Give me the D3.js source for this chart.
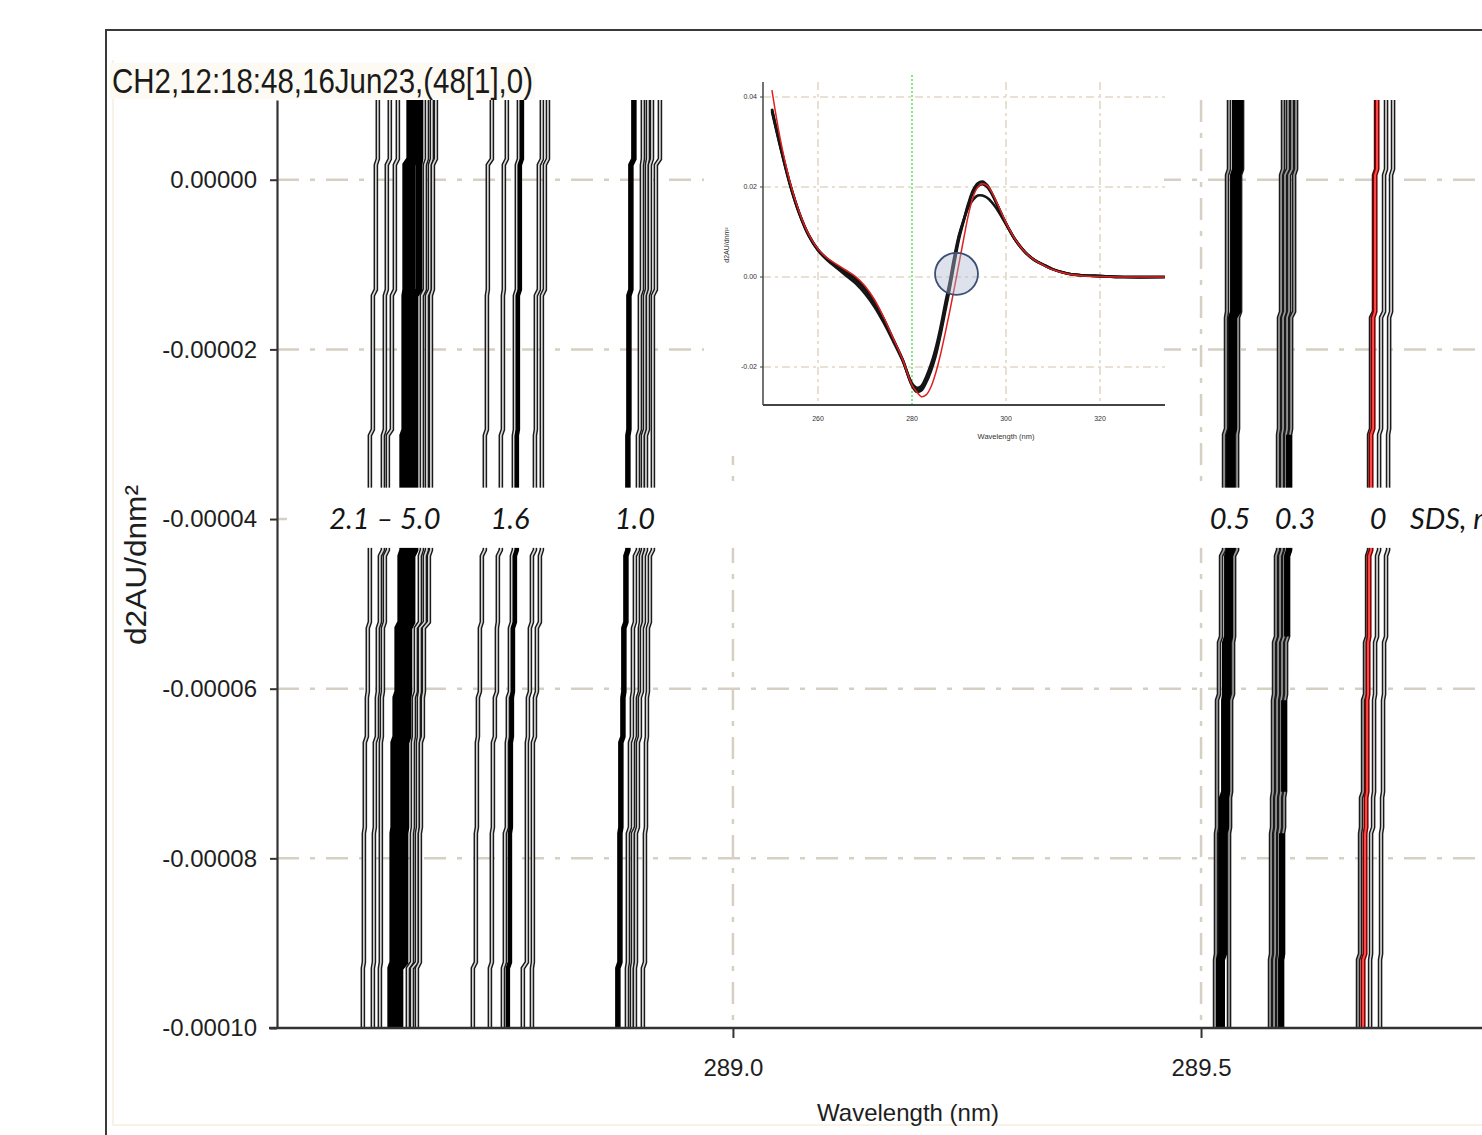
<!DOCTYPE html>
<html><head><meta charset="utf-8">
<script src="https://cdn.jsdelivr.net/npm/d3@7"></script>
<style>html,body{margin:0;padding:0;background:#fff;overflow:hidden}svg{display:block}</style>
</head><body><svg id="chart" width="1482" height="1135"></svg>
<script>
// ---------------- DATA ----------------
const titleText = "CH2,12:18:48,16Jun23,(48[1],0)";
const yTicks = [0, -0.00002, -0.00004, -0.00006, -0.00008, -0.0001];
const yTickLabels = ["0.00000", "-0.00002", "-0.00004", "-0.00006", "-0.00008", "-0.00010"];
const yGrid = [0, -0.00002, -0.00004, -0.00006, -0.00008];
const xTicks = [289.0, 289.5];
const xTickLabels = ["289.0", "289.5"];
const xTitle = "Wavelength (nm)";
const yTitle = "d2AU/dnm²";

// step levels (d2A values) where traces jog
const levelsLeft  = [0.0000094, 0.0000021, -0.0000133, -0.0000298, -0.0000440, -0.0000525, -0.0000607, -0.0000660, -0.0000767, -0.0000926, -0.0001];
const levelsRight = [0.0000094, 0.0000009, -0.0000159, -0.0000297, -0.0000440, -0.0000542, -0.0000610, -0.0000725, -0.0000767, -0.0000916, -0.0001];

// wavelength (nm) of each trace in each step segment
// SDS 2.1 - 5.0 mM
const trA1 = [288.6207, 288.6186, 288.6154, 288.6122, 288.6122, 288.6100, 288.6090, 288.6068, 288.6058, 288.6047];
const trA2 = [288.6335, 288.6303, 288.6282, 288.6261, 288.6229, 288.6207, 288.6197, 288.6175, 288.6165, 288.6154];
const trA3 = [288.6421, 288.6389, 288.6357, 288.6314, 288.6282, 288.6261, 288.6250, 288.6239, 288.6239, 288.6229];
const trA4 = [288.6549, 288.6506, 288.6496, 288.6474, 288.6453, 288.6421, 288.6400, 288.6378, 288.6368, 288.6346];
const trA5 = [288.6603, 288.6571, 288.6549, 288.6538, 288.6506, 288.6474, 288.6464, 288.6442, 288.6432, 288.6400];
const trA6 = [288.6656, 288.6645, 288.6603, 288.6603, 288.6571, 288.6538, 288.6528, 288.6506, 288.6496, 288.6442];
const trA7 = [288.6731, 288.6709, 288.6677, 288.6677, 288.6656, 288.6613, 288.6592, 288.6581, 288.6571, 288.6528];
const trA8 = [288.6784, 288.6763, 288.6731, 288.6731, 288.6709, 288.6656, 288.6645, 288.6635, 288.6624, 288.6571];
const trA9 = [288.6827, 288.6795, 288.6774, 288.6774, 288.6752, 288.6699, 288.6688, 288.6667, 288.6656, 288.6624];
// SDS 1.6 mM
const trB1 = [288.7425, 288.7382, 288.7372, 288.7350, 288.7318, 288.7297, 288.7276, 288.7265, 288.7254, 288.7222];
const trB2 = [288.7585, 288.7553, 288.7543, 288.7521, 288.7489, 288.7479, 288.7457, 288.7436, 288.7425, 288.7404];
const trB3 = [288.7714, 288.7692, 288.7671, 288.7660, 288.7639, 288.7618, 288.7596, 288.7585, 288.7564, 288.7543];
const trB4 = [288.7746, 288.7724, 288.7703, 288.7692, 288.7671, 288.7650, 288.7639, 288.7628, 288.7618, 288.7596];
const trB5 = [288.7959, 288.7927, 288.7895, 288.7885, 288.7853, 288.7831, 288.7810, 288.7799, 288.7799, 288.7756];
const trB6 = [288.8024, 288.7991, 288.7959, 288.7959, 288.7938, 288.7906, 288.7885, 288.7863, 288.7863, 288.7853];
// SDS 1.0 mM
const trC1 = [288.8942, 288.8910, 288.8889, 288.8878, 288.8857, 288.8835, 288.8825, 288.8803, 288.8793, 288.8771];
const trC2 = [288.9038, 288.9028, 288.9006, 288.8985, 288.8953, 288.8932, 288.8921, 288.8900, 288.8878, 288.8868];
const trC3 = [288.9092, 288.9081, 288.9060, 288.9038, 288.9017, 288.9006, 288.8985, 288.8964, 288.8932, 288.8921];
const trC4 = [288.9135, 288.9113, 288.9092, 288.9071, 288.9049, 288.9028, 288.9006, 288.8985, 288.8964, 288.8953];
const trC5 = [288.9220, 288.9177, 288.9145, 288.9145, 288.9113, 288.9092, 288.9081, 288.9071, 288.9060, 288.9038];
// SDS 0.5 mM
const trD1 = [289.5299, 289.5278, 289.5267, 289.5246, 289.5214, 289.5192, 289.5171, 289.5171, 289.5160, 289.5150];
const trD2 = [289.5363, 289.5342, 289.5321, 289.5299, 289.5278, 289.5256, 289.5246, 289.5224, 289.5214, 289.5192];
const trD3 = [289.5417, 289.5395, 289.5353, 289.5331, 289.5310, 289.5288, 289.5278, 289.5267, 289.5246, 289.5224];
const trD4 = [289.5438, 289.5417, 289.5395, 289.5385, 289.5353, 289.5342, 289.5321, 289.5310, 289.5299, 289.5299];
// SDS 0.3 mM
const trE1 = [289.5876, 289.5855, 289.5833, 289.5823, 289.5801, 289.5780, 289.5769, 289.5759, 289.5748, 289.5737];
const trE2 = [289.5929, 289.5897, 289.5876, 289.5865, 289.5844, 289.5823, 289.5812, 289.5801, 289.5791, 289.5780];
const trE3 = [289.5972, 289.5940, 289.5919, 289.5908, 289.5887, 289.5865, 289.5855, 289.5844, 289.5833, 289.5823];
const trE4 = [289.6015, 289.5994, 289.5962, 289.5951, 289.5929, 289.5908, 289.5897, 289.5887, 289.5876, 289.5865];
const trE5 = [null, null, null, 289.5940, 289.5919, null, 289.5887, null, 289.5865, 289.5855];
// SDS 0 mM
const trF1 = [289.6870, 289.6848, 289.6816, 289.6795, 289.6774, 289.6752, 289.6731, 289.6709, 289.6699, 289.6677];
const trF2 = [289.6976, 289.6955, 289.6923, 289.6902, 289.6880, 289.6859, 289.6848, 289.6838, 289.6816, 289.6806];
const trF3 = [289.7051, 289.7030, 289.7009, 289.6998, 289.6976, 289.6955, 289.6944, 289.6934, 289.6923, 289.6912];
const trFred = [289.6880, 289.6859, 289.6838, 289.6816, 289.6795, 289.6784, 289.6774, 289.6763, 289.6752, 289.6731];

// concentration labels (SDS, mM)
const concLabels = ["2.1 – 5.0", "1.6", "1.0", "0.5", "0.3", "0"];
const concLabelPos = [288.6282, 288.7618, 288.8953, 289.5310, 289.6004, 289.6891];
const unitLabel = "SDS, mM";
const unitLabelPos = 289.7233;
const labelValue = -0.00004;
const labelBand = [-0.0000363, -0.0000434];

// inset: full second-derivative spectra
const insetLam = [250.2, 252, 254, 256, 258, 260, 262, 264, 266, 268, 270, 272, 274, 276, 278, 280, 281, 282, 283, 284, 285, 286, 287, 288, 289, 290, 291, 292, 293, 294, 295, 296, 297, 298, 300, 302, 304, 306, 308, 310, 313, 316, 320, 325, 333.8];
const insetBlackA = [0.0371, 0.0290, 0.0208, 0.0142, 0.0093, 0.0060, 0.0039, 0.0023, 0.0008, -0.0007, -0.0029, -0.0058, -0.0096, -0.0140, -0.0184, -0.0240, -0.0251, -0.0247, -0.0229, -0.0203, -0.0170, -0.0125, -0.0073, -0.0022, 0.0038, 0.0090, 0.0127, 0.0164, 0.0193, 0.0208, 0.0212, 0.0204, 0.0186, 0.0164, 0.0119, 0.0082, 0.0056, 0.0038, 0.0027, 0.0017, 0.0008, 0.0004, 0.0002, 0.0000, 0.0000];
const insetBlackB = [0.0368, 0.0288, 0.0206, 0.0141, 0.0092, 0.0059, 0.0037, 0.0020, 0.0003, -0.0014, -0.0037, -0.0066, -0.0102, -0.0143, -0.0186, -0.0236, -0.0246, -0.0242, -0.0222, -0.0195, -0.0160, -0.0115, -0.0062, -0.0012, 0.0045, 0.0093, 0.0127, 0.0155, 0.0172, 0.0181, 0.0181, 0.0176, 0.0166, 0.0152, 0.0117, 0.0082, 0.0056, 0.0038, 0.0027, 0.0017, 0.0008, 0.0004, 0.0002, 0.0000, 0.0000];
const insetBlackC = [0.0374, 0.0292, 0.0209, 0.0143, 0.0094, 0.0061, 0.0040, 0.0025, 0.0011, -0.0003, -0.0024, -0.0054, -0.0093, -0.0138, -0.0183, -0.0241, -0.0255, -0.0252, -0.0235, -0.0210, -0.0177, -0.0132, -0.0080, -0.0028, 0.0030, 0.0084, 0.0124, 0.0160, 0.0188, 0.0202, 0.0206, 0.0200, 0.0184, 0.0163, 0.0119, 0.0082, 0.0056, 0.0038, 0.0027, 0.0017, 0.0008, 0.0004, 0.0002, 0.0000, 0.0000];
const insetRed = [0.0415, 0.0305, 0.0213, 0.0145, 0.0095, 0.0062, 0.0042, 0.0028, 0.0015, 0.0001, -0.0020, -0.0050, -0.0090, -0.0136, -0.0183, -0.0240, -0.0255, -0.0266, -0.0262, -0.0245, -0.0215, -0.0175, -0.0128, -0.0078, -0.0025, 0.0030, 0.0085, 0.0138, 0.0178, 0.0200, 0.0207, 0.0203, 0.0188, 0.0167, 0.0121, 0.0083, 0.0056, 0.0038, 0.0026, 0.0016, 0.0007, 0.0003, 0.0001, 0.0000, 0.0000];
const insetXTicks = [260, 280, 300, 320];
const insetYTicks = [0.04, 0.02, 0.00, -0.02];
const insetYTickLabels = ["0.04", "0.02", "0.00", "-0.02"];
const insetMarker = 280;
const insetEllipse = {cx: 289.47, cy: 0.0007, rx: 4.57, ry: 0.00467};

// ---------------- DRAW ----------------
const svg = d3.select("#chart");
svg.append("rect").attr("width", 1482).attr("height", 1135).attr("fill", "#fff");

const x = d3.scaleLinear().domain([288.513, 289.861]).range([277, 1539]);
const y = d3.scaleLinear().domain([-0.0001, 0.0000094]).range([1028, 100]);

// outer frame
svg.append("rect").attr("x", 106).attr("y", 30).attr("width", 1500).attr("height", 1200)
  .attr("fill", "none").attr("stroke", "#3a3a3a").attr("stroke-width", 2);
svg.append("path").attr("d", "M113,60 V1125 H1482")
  .attr("fill", "none").attr("stroke", "#f6efe0").attr("stroke-width", 1.5);

// title
svg.append("rect").attr("x", 110).attr("y", 63).attr("width", 425).attr("height", 36).attr("fill", "#fdfaf3");
svg.append("text").attr("x", 112).attr("y", 93).text(titleText)
  .attr("font-family", "'Liberation Sans Narrow','Liberation Sans',Arial,sans-serif")
  .attr("font-size", 35).attr("fill", "#1a1a1a")
  .attr("textLength", 421).attr("lengthAdjust", "spacingAndGlyphs");

// grid
const gridColor = "#d6d0c4";
const gridDash = "22,11,5,11";
const gGrid = svg.append("g");
gGrid.selectAll("line.h").data(yGrid).enter().append("line")
  .attr("x1", x.range()[0]).attr("x2", 1482)
  .attr("y1", d => y(d)).attr("y2", d => y(d))
  .attr("stroke", gridColor).attr("stroke-width", 2.5).attr("stroke-dasharray", gridDash);
gGrid.selectAll("line.v").data(xTicks).enter().append("line")
  .attr("x1", d => x(d)).attr("x2", d => x(d))
  .attr("y1", y.range()[1]).attr("y2", y.range()[0])
  .attr("stroke", gridColor).attr("stroke-width", 2.5).attr("stroke-dasharray", gridDash);

// traces
const jog = 0.00000035;
function tracePoints(lam, lv) {
  const n = lam.length, pts = [];
  for (let i = 0; i < n; i++) {
    if (lam[i] == null) { pts.push(null); continue; }
    const top = i === 0 ? lv[0] : lv[i] - jog;
    const bot = i === n - 1 ? lv[n] : lv[i + 1] + jog;
    pts.push([lam[i], top]);
    pts.push([lam[i], bot]);
  }
  return pts;
}
const line = d3.line().defined(d => d != null).x(d => x(d[0])).y(d => y(d[1]));

const LIGHT = "#d6d6d6", GREY = "#9a9a9a";
const traceTable = [
  {lam: trA1, lv: levelsLeft, kind: "hollow", inner: LIGHT},
  {lam: trA2, lv: levelsLeft, kind: "hollow", inner: LIGHT},
  {lam: trA3, lv: levelsLeft, kind: "hollow", inner: LIGHT},
  {lam: trA7, lv: levelsLeft, kind: "hollow", inner: LIGHT},
  {lam: trA8, lv: levelsLeft, kind: "hollow", inner: LIGHT},
  {lam: trA9, lv: levelsLeft, kind: "hollow", inner: LIGHT},
  {lam: trA4, lv: levelsLeft, kind: "solid", w: 7},
  {lam: trA5, lv: levelsLeft, kind: "solid", w: 7},
  {lam: trA6, lv: levelsLeft, kind: "solid", w: 7},
  {lam: trB1, lv: levelsLeft, kind: "hollow", inner: LIGHT},
  {lam: trB2, lv: levelsLeft, kind: "hollow", inner: LIGHT},
  {lam: trB3, lv: levelsLeft, kind: "hollow", inner: LIGHT},
  {lam: trB5, lv: levelsLeft, kind: "hollow", inner: LIGHT},
  {lam: trB6, lv: levelsLeft, kind: "hollow", inner: LIGHT},
  {lam: trB4, lv: levelsLeft, kind: "solid", w: 4.5},
  {lam: trC2, lv: levelsLeft, kind: "hollow", inner: LIGHT},
  {lam: trC3, lv: levelsLeft, kind: "hollow", inner: LIGHT},
  {lam: trC4, lv: levelsLeft, kind: "hollow", inner: LIGHT},
  {lam: trC5, lv: levelsLeft, kind: "hollow", inner: LIGHT},
  {lam: trC1, lv: levelsLeft, kind: "solid", w: 5.5},
  {lam: trD1, lv: levelsRight, kind: "hollow", inner: GREY},
  {lam: trD4, lv: levelsRight, kind: "hollow", inner: GREY},
  {lam: trD2, lv: levelsRight, kind: "solid", w: 6},
  {lam: trD3, lv: levelsRight, kind: "solid", w: 6},
  {lam: trE1, lv: levelsRight, kind: "hollow", inner: GREY},
  {lam: trE2, lv: levelsRight, kind: "hollow", inner: GREY},
  {lam: trE3, lv: levelsRight, kind: "hollow", inner: GREY},
  {lam: trE4, lv: levelsRight, kind: "hollow", inner: GREY},
  {lam: trE5, lv: levelsRight, kind: "solid", w: 6},
  {lam: trF1, lv: levelsRight, kind: "hollow", inner: GREY},
  {lam: trF2, lv: levelsRight, kind: "hollow", inner: LIGHT},
  {lam: trF3, lv: levelsRight, kind: "hollow", inner: LIGHT},
  {lam: trFred, lv: levelsRight, kind: "red"}
];
const gTr = svg.append("g").attr("fill", "none").attr("stroke-linejoin", "miter");
traceTable.forEach(t => {
  const d = line(tracePoints(t.lam, t.lv));
  if (t.kind === "solid") {
    gTr.append("path").attr("d", d).attr("stroke", "#000").attr("stroke-width", t.w);
  } else if (t.kind === "red") {
    gTr.append("path").attr("d", d).attr("stroke", "#7d0000").attr("stroke-width", 5);
    gTr.append("path").attr("d", d).attr("stroke", "#ff4a4a").attr("stroke-width", 2);
  } else {
    gTr.append("path").attr("d", d).attr("stroke", "#1a1a1a").attr("stroke-width", 4.6);
    gTr.append("path").attr("d", d).attr("stroke", t.inner).attr("stroke-width", 1.7);
  }
});

// white band behind concentration labels
svg.append("rect").attr("x", x.range()[0] + 10).attr("width", 1482)
  .attr("y", y(labelBand[0])).attr("height", y(labelBand[1]) - y(labelBand[0]))
  .attr("fill", "#fff");

// axes
const yAxis = d3.axisLeft(y).tickValues(yTicks).tickFormat((d, i) => yTickLabels[i])
  .tickSize(7).tickSizeOuter(0).tickPadding(13);
const gy = svg.append("g").attr("transform", `translate(${x.range()[0]},0)`).call(yAxis);
gy.select(".domain").attr("stroke", "#333").attr("stroke-width", 2.2);
gy.selectAll(".tick line").attr("stroke", "#333").attr("stroke-width", 2);
gy.selectAll(".tick text").attr("font-family", "'Liberation Sans',Arial,sans-serif")
  .attr("font-size", 24).attr("fill", "#1e1e1e");

const xAxis = d3.axisBottom(x).tickValues(xTicks).tickFormat((d, i) => xTickLabels[i])
  .tickSize(10).tickSizeOuter(0).tickPadding(21);
const gx = svg.append("g").attr("transform", `translate(0,${y.range()[0]})`).call(xAxis);
gx.select(".domain").remove();
gx.selectAll(".tick line").attr("stroke", "#333").attr("stroke-width", 2);
gx.selectAll(".tick text").attr("font-family", "'Liberation Sans',Arial,sans-serif")
  .attr("font-size", 24).attr("fill", "#1e1e1e");
svg.append("line").attr("x1", x.range()[0] - 8).attr("x2", 1482)
  .attr("y1", y.range()[0]).attr("y2", y.range()[0])
  .attr("stroke", "#333").attr("stroke-width", 2.5);

svg.append("text").attr("x", (x.range()[0] + x.range()[1]) / 2).attr("y", 1121)
  .attr("text-anchor", "middle").text(xTitle)
  .attr("font-family", "'Liberation Sans',Arial,sans-serif").attr("font-size", 24).attr("fill", "#1e1e1e");
svg.append("text").attr("transform", `translate(146,565) rotate(-90)`)
  .attr("text-anchor", "middle").text(yTitle)
  .attr("font-family", "'Liberation Sans',Arial,sans-serif").attr("font-size", 30).attr("fill", "#1e1e1e")
  .attr("textLength", 160).attr("lengthAdjust", "spacingAndGlyphs");

// concentration labels
const labFont = "Lato,'Open Sans',sans-serif";
svg.selectAll("text.conc").data(concLabels).enter().append("text")
  .attr("x", (d, i) => x(concLabelPos[i])).attr("y", y(labelValue))
  .attr("dy", "0.36em").attr("text-anchor", "middle").text(d => d)
  .attr("font-family", labFont).attr("font-style", "italic").attr("font-size", 29).attr("fill", "#151515");
svg.append("text").attr("x", x(unitLabelPos)).attr("y", y(labelValue)).attr("dy", "0.36em")
  .text(unitLabel).attr("font-family", labFont).attr("font-style", "italic").attr("font-size", 29).attr("fill", "#151515");

// ---------------- INSET ----------------
const gi = svg.append("g");
gi.append("rect").attr("x", 704).attr("y", 68).attr("width", 460).attr("height", 388).attr("fill", "#fff");
const xi = d3.scaleLinear().domain([248.3, 333.83]).range([763, 1165]);
const yi = d3.scaleLinear().domain([-0.02844, 0.04333]).range([405, 82]);
const iGrid = "#e2d9c6";
gi.selectAll("line.ih").data(insetYTicks).enter().append("line")
  .attr("x1", xi.range()[0]).attr("x2", xi.range()[1]).attr("y1", d => yi(d)).attr("y2", d => yi(d))
  .attr("stroke", iGrid).attr("stroke-width", 1.6).attr("stroke-dasharray", "8,4,3,4");
gi.selectAll("line.iv").data(insetXTicks.filter(d => d !== insetMarker)).enter().append("line")
  .attr("x1", d => xi(d)).attr("x2", d => xi(d)).attr("y1", yi.range()[1]).attr("y2", yi.range()[0])
  .attr("stroke", iGrid).attr("stroke-width", 1.6).attr("stroke-dasharray", "8,4,3,4");
gi.append("line").attr("x1", xi(insetMarker)).attr("x2", xi(insetMarker))
  .attr("y1", yi.range()[1] - 7).attr("y2", yi.range()[0])
  .attr("stroke", "#5fe05f").attr("stroke-width", 1.5).attr("stroke-dasharray", "2,2");

const iLine = d3.line().curve(d3.curveCatmullRom).x((d, i) => xi(insetLam[i])).y(d => yi(d));
[insetBlackB, insetBlackC, insetBlackA].forEach(s => {
  gi.append("path").attr("d", iLine(s)).attr("fill", "none").attr("stroke", "#151515").attr("stroke-width", 2.6);
});
gi.append("path").attr("d", iLine(insetRed)).attr("fill", "none").attr("stroke", "#e02020").attr("stroke-width", 1.5);

gi.append("ellipse").attr("cx", xi(insetEllipse.cx)).attr("cy", yi(insetEllipse.cy))
  .attr("rx", xi(insetEllipse.cx + insetEllipse.rx) - xi(insetEllipse.cx))
  .attr("ry", yi(insetEllipse.cy - insetEllipse.ry) - yi(insetEllipse.cy))
  .attr("fill", "rgba(175,186,210,0.42)").attr("stroke", "#3d4f75").attr("stroke-width", 1.8);

// inset axes
gi.append("line").attr("x1", xi.range()[0]).attr("x2", xi.range()[0]).attr("y1", yi.range()[1]).attr("y2", yi.range()[0])
  .attr("stroke", "#444").attr("stroke-width", 1.5);
gi.append("line").attr("x1", xi.range()[0]).attr("x2", xi.range()[1]).attr("y1", yi.range()[0]).attr("y2", yi.range()[0])
  .attr("stroke", "#444").attr("stroke-width", 2);
const iFont = "'Liberation Sans',Arial,sans-serif";
gi.selectAll("text.iy").data(insetYTicks).enter().append("text")
  .attr("x", xi.range()[0] - 6).attr("y", d => yi(d)).attr("dy", "0.35em").attr("text-anchor", "end")
  .text((d, i) => insetYTickLabels[i]).attr("font-family", iFont).attr("font-size", 7).attr("fill", "#333");
gi.selectAll("line.iyt").data(insetYTicks).enter().append("line")
  .attr("x1", xi.range()[0] - 3).attr("x2", xi.range()[0]).attr("y1", d => yi(d)).attr("y2", d => yi(d))
  .attr("stroke", "#444").attr("stroke-width", 1);
gi.selectAll("text.ix").data(insetXTicks).enter().append("text")
  .attr("x", d => xi(d)).attr("y", yi.range()[0] + 16).attr("text-anchor", "middle")
  .text(d => d).attr("font-family", iFont).attr("font-size", 7).attr("fill", "#333");
gi.append("text").attr("x", xi(300)).attr("y", yi.range()[0] + 34).attr("text-anchor", "middle")
  .text(xTitle).attr("font-family", iFont).attr("font-size", 7.5).attr("fill", "#333");
gi.append("text").attr("transform", `translate(729,245) rotate(-90)`).attr("text-anchor", "middle")
  .text(yTitle).attr("font-family", iFont).attr("font-size", 7).attr("fill", "#333");
</script>
</body></html>
